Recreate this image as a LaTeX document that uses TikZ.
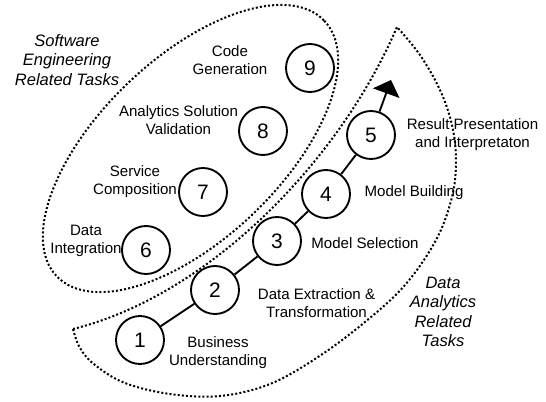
\documentclass[tikz,border=0pt]{standalone}
\usepackage{fontspec}
\setmainfont{Liberation Sans}
\usetikzlibrary{arrows.meta}
\begin{document}
\begin{tikzpicture}[x=0.75pt,y=-0.75pt,
  task/.style={draw, circle, line width=1.4pt, minimum size=36pt, inner sep=0pt,
    font=\fontsize{15.7}{18}\selectfont},
  tasktext/.style={align=center, inner sep=0pt, font=\fontsize{11.3}{13.6}\selectfont},
  grouptext/.style={align=center, inner sep=0pt, font=\fontsize{12.4}{14.6}\selectfont\itshape},
  region/.style={line width=1.5pt, dash pattern=on 1.5pt off 1.6pt},
  flow/.style={line width=1.4pt}
]
\useasboundingbox (0,0) rectangle (546,401);

% software engineering group
\draw[region, rotate around={43.7:(190.5,148.5)}] (190.5,148.5) ellipse [x radius=185, y radius=90.5];

% data analytics group
\draw[region] (73,329) .. controls (210,295) and (340,160) .. (397,27)
  -- plot[smooth, tension=0.6] coordinates {(397,27) (420,55) (440,90) (452,125) (456,160)
     (452,197) (436,240) (405,285) (365,322) (318,357) (270,384) (220,396) (170,394)
     (125,383) (95,365) (80,348) (73,329)} -- cycle;

% task circles
\node[task] (n1) at (140,340) {1};
\node[task] (n2) at (215,290) {2};
\node[task] (n3) at (277,241) {3};
\node[task] (n4) at (326,194) {4};
\node[task] (n5) at (371,135) {5};
\node[task] (n6) at (146,250) {6};
\node[task] (n7) at (203,192) {7};
\node[task] (n8) at (263,131) {8};
\node[task] (n9) at (310,68) {9};
\coordinate (tip) at (391,80);

% analytics flow
\draw[flow] (n1) -- (n2);
\draw[flow] (n2) -- (n3);
\draw[flow] (n3) -- (n4);
\draw[flow] (n4) -- (n5);
\draw[flow, -{Triangle[width=21pt, length=10.5pt]}] (n5) -- (tip);

% task descriptions
\node[tasktext] (t1) at (218,353) {Business\\Understanding};
\node[tasktext] (t2) at (316.5,303) {Data Extraction \&\\Transformation};
\node[tasktext] (t3) at (365,243) {Model Selection};
\node[tasktext] (t4) at (414,193) {Model Building};
\node[tasktext] (t5) at (472.5,135) {Result Presentation\\and Interpretaton};
\node[tasktext] (t6) at (86,240.5) {Data\\Integration};
\node[tasktext] (t7) at (135,182) {Service\\Composition};
\node[tasktext] (t8) at (178.5,120) {Analytics Solution\\Validation};
\node[tasktext] (t9) at (230,60) {Code\\Generation};

% group titles
\node[grouptext] (gse) at (67,60) {Software\\Engineering\\Related Tasks};
\node[grouptext] (gda) at (443,312) {Data\\Analytics\\Related\\Tasks};
\end{tikzpicture}
\end{document}
